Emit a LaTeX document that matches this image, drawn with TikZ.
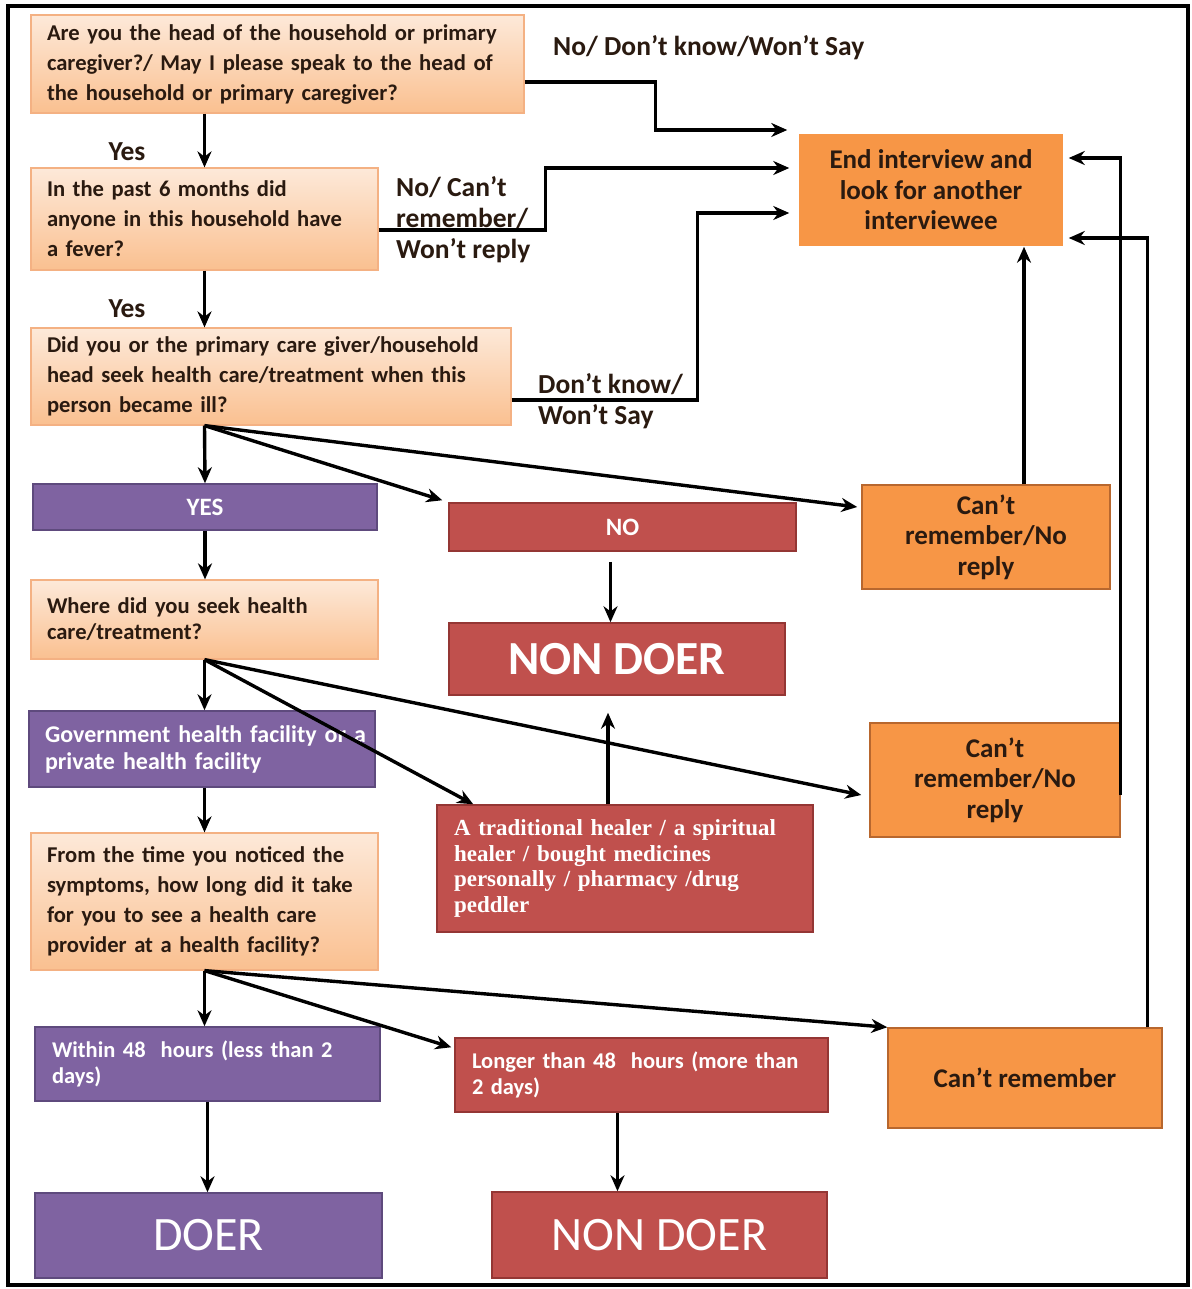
\documentclass[tikz,border=0pt]{standalone}
\usepackage{fontspec}
\setmainfont{Carlito}
\newfontfamily\trfont{Liberation Serif}
\usetikzlibrary{arrows.meta,calc}
\definecolor{qtop}{HTML}{FDE9D9}
\definecolor{qbot}{HTML}{FAC090}
\definecolor{qborder}{HTML}{F4B183}
\definecolor{pfill}{HTML}{7F63A1}
\definecolor{pborder}{HTML}{5E4A7D}
\definecolor{rfill}{HTML}{C0504D}
\definecolor{rborder}{HTML}{943634}
\definecolor{ofill}{HTML}{F79646}
\definecolor{oborder}{HTML}{B8672E}
\definecolor{dtext}{HTML}{2A1A10}
\begin{document}
\begin{tikzpicture}[x=1pt,y=-1pt,
  qbox/.style={draw=qborder, line width=1.2pt, top color=qtop, bottom color=qbot,
    text=dtext, align=left, inner xsep=16pt, inner ysep=0pt,
    font=\bfseries\fontsize{22.6}{30}\selectfont},
  pbox/.style={draw=pborder, line width=1.5pt, fill=pfill, text=white, inner ysep=0pt,
    font=\bfseries\fontsize{25}{27}\selectfont},
  rbox/.style={draw=rborder, line width=1.5pt, fill=rfill, text=white, inner ysep=0pt,
    font=\bfseries\fontsize{25}{27}\selectfont},
  obox/.style={draw=oborder, line width=1.5pt, fill=ofill, text=dtext, align=center, inner ysep=0pt,
    font=\bfseries\fontsize{27}{30.5}\selectfont},
  lbl/.style={text=dtext, inner sep=0pt, font=\bfseries\fontsize{27.5}{31}\selectfont},
  arr/.style={-{Stealth[length=16pt,width=14pt]}, line width=3.4pt},
  ln/.style={line width=3.4pt}]
\useasboundingbox (0,0) rectangle (1191,1289);
\fill[white] (0,0) rectangle (1191,1289);
\draw[line width=3.5pt] (8,6) rectangle (1188,1285);

% question boxes
\node[qbox, minimum width=493, minimum height=98, text width=461] (Q1) at (277.5,64)
  {\mbox{Are you the head of the household or primary}\\\mbox{caregiver?/ May I please speak to the head of}\\\mbox{the household or primary caregiver?}};
\node[qbox, minimum width=347, minimum height=102, text width=315] (Q2) at (204.5,219)
  {\mbox{In the past 6 months did}\\\mbox{anyone in this household have}\\\mbox{a fever?}};
\node[qbox, minimum width=480, minimum height=97, text width=448] (Q3) at (271,376.5)
  {\mbox{Did you or the primary care giver/household}\\\mbox{head seek health care/treatment when this}\\\mbox{person became ill?}};
\node[qbox, minimum width=347, minimum height=79, text width=315,
  font=\bfseries\fontsize{22.6}{26}\selectfont] (Where) at (204.5,619.5)
  {\mbox{Where did you seek health}\\\mbox{care/treatment?}};
\node[qbox, minimum width=347, minimum height=137, text width=315] (Q4) at (204.5,901.5)
  {\mbox{From the time you noticed the}\\\mbox{symptoms, how long did it take}\\\mbox{for you to see a health care}\\\mbox{provider at a health facility?}};

% end box
\node[obox, draw=ofill, minimum width=262, minimum height=110] (End) at (931,190)
  {End interview and\\look for another\\interviewee};

% outcome boxes
\node[pbox, minimum width=344, minimum height=46] (YES) at (205,507) {YES};
\node[rbox, minimum width=347, minimum height=48] (NO) at (622.5,527) {NO};
\node[obox, minimum width=248, minimum height=104] (Can1) at (986,537)
  {Can’t\\remember/No\\reply};
\node[rbox, font=\bfseries\fontsize{47.5}{50}\selectfont, minimum width=336, minimum height=72] (ND1) at (617,659) {NON DOER};
\node[pbox, minimum width=346, minimum height=76, text width=314, align=left, inner xsep=16pt,
  font=\bfseries\fontsize{24}{27}\selectfont] (Gov) at (202,749)
  {\mbox{Government health facility or a}\\\mbox{private health facility}};
\node[rbox, minimum width=376, minimum height=127, text width=342, align=left, inner xsep=17pt,
  font=\trfont\bfseries\fontsize{23}{25.5}\selectfont] (Trad) at (625,868.5)
  {\mbox{A traditional healer / a spiritual}\\\mbox{healer / bought medicines}\\\mbox{personally / pharmacy /drug}\\\mbox{peddler}};
\node[obox, minimum width=250, minimum height=114] (Can2) at (995,780)
  {Can’t\\remember/No\\reply};
\node[pbox, minimum width=345, minimum height=74, text width=311, align=left, inner xsep=17pt,
  font=\bfseries\fontsize{22.5}{26}\selectfont] (Within) at (207.5,1064)
  {\mbox{Within 48~ hours (less than 2}\\\mbox{days)}};
\node[rbox, minimum width=373, minimum height=74, text width=339, align=left, inner xsep=17pt,
  font=\bfseries\fontsize{22.5}{26}\selectfont] (Longer) at (641.5,1075)
  {\mbox{Longer than 48~ hours (more than}\\\mbox{2 days)}};
\node[obox, minimum width=274, minimum height=100] (Can3) at (1025,1078) {Can’t remember};
\node[pbox, minimum width=347, minimum height=85, font=\fontsize{48}{50}\selectfont] (DOER) at (208.5,1235.5) {DOER};
\node[rbox, minimum width=335, minimum height=86, font=\fontsize{48}{50}\selectfont] (ND2) at (659.5,1235) {NON DOER};

% labels
\node[lbl, anchor=west] (lab1) at (553,48) {No/ Don’t know/Won’t Say};
\node[lbl] (yes1) at (127,152) {Yes};
\node[lbl] (yes2) at (127,309) {Yes};
\node[lbl, anchor=west, align=left] (lab2) at (396,220) {No/ Can’t\\remember/\\Won’t reply};
\node[lbl, anchor=west, align=left] (lab3) at (538,401) {Don’t know/\\Won’t Say};

% connectors to End
\draw[arr] ($(Q1.east)+(0,18)$) -- ++(131,0) |- ($(End.west)+(-12,-60)$);
\draw[arr] ($(Q2.east)+(0,11)$) -- ++(167,0) |- ($(End.west)+(-10,-22)$);
\draw[arr] ($(Q3.east)+(0,23.5)$) -- ++(186,0) |- ($(End.west)+(-10,23)$);

% main column
\draw[arr] (Q2.north |- Q1.south) -- (Q2.north);
\draw[arr] (Q2.south) -- (Q2.south |- Q3.north);
\coordinate (p3) at (Q3.south -| Q2.south);
\draw[arr] (p3) -- (YES.north);
\draw[arr] (p3) -- ($(NO.north west)+(-6,-2)$);
\draw[arr] (p3) -- ($(Can1.west)+(-4,-30)$);
\coordinate (c1) at ($(Can1.north)+(38,0)$);
\draw[arr, shorten >=1pt] (c1) -- (c1 |- End.south);
\coordinate (n1) at ($(NO.south)+(-12,0)$);
\draw[arr, shorten <=10pt] (n1) -- (n1 |- ND1.north);
\draw[arr] (YES.south) -- (YES.south |- Where.north);

\coordinate (p4) at (Where.south);
\draw[arr] (p4) -- (p4 |- Gov.north);
\draw[arr] (p4) -- ($(Trad.north west)+(37,0)$);
\draw[arr] (p4) -- ($(Can2.west)+(-8,15)$);
\coordinate (t1) at ($(Trad.north)+(-17,0)$);
\draw[arr, shorten >=17pt] (t1) -- (t1 |- ND1.south);
\coordinate (c2) at ($(Can2.east)+(0,15)$);
\draw[arr] (c2) |- ($(End.east)+(6,-32)$);
\draw[arr] (Gov.south -| Q4.north) -- (Q4.north);

\coordinate (p5) at (Q4.south);
\draw[arr] (p5) -- (p5 |- Within.north);
\draw[arr] (p5) -- ($(Longer.north west)+(-3,10)$);
\draw[arr] (p5) -- (Can3.north west);
\coordinate (c3) at ($(Can3.north east)+(-15,0)$);
\draw[arr] (c3) |- ($(End.east)+(6,48)$);
\draw[arr] (Within.south) -- (Within.south |- DOER.north);
\coordinate (l1) at ($(Longer.south)+(-24,0)$);
\draw[arr] (l1) -- (l1 |- ND2.north);
\end{tikzpicture}
\end{document}
